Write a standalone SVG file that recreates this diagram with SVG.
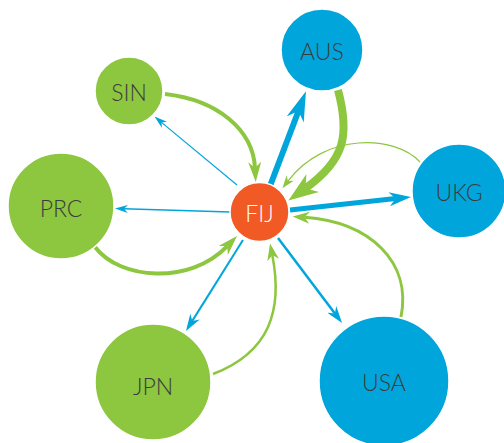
<svg xmlns="http://www.w3.org/2000/svg" width="504" height="443" viewBox="0 0 504 443">
<style>
.g{fill:#8dc63f}
.b{fill:#00a6db}
.o{fill:#f15a24}
.n{stroke:#ffffff;stroke-width:1.5}
.t{font-family:Lato,"Open Sans","Liberation Sans",sans-serif;font-size:23px;font-weight:300;fill:#3c3c3c;text-anchor:middle;dominant-baseline:central}
.tw{fill:#ffffff}
.cg{fill:none;stroke:#8dc63f}
.cb{fill:none;stroke:#00a6db}
</style>
<defs>
<marker id="hG1" viewBox="0 0 10 10" refX="3" refY="5" markerUnits="userSpaceOnUse" markerWidth="13" markerHeight="9" preserveAspectRatio="none" orient="auto"><path d="M0,0 L10,5 L0,10 L3,5 z" fill="#8dc63f"/></marker>
<marker id="hG2" viewBox="0 0 10 10" refX="3" refY="5" markerUnits="userSpaceOnUse" markerWidth="17" markerHeight="12" preserveAspectRatio="none" orient="auto"><path d="M0,0 L10,5 L0,10 L3,5 z" fill="#8dc63f"/></marker>
<marker id="hG3" viewBox="0 0 10 10" refX="3" refY="5" markerUnits="userSpaceOnUse" markerWidth="20" markerHeight="13" preserveAspectRatio="none" orient="auto"><path d="M0,0 L10,5 L0,10 L3,5 z" fill="#8dc63f"/></marker>
<marker id="hG4" viewBox="0 0 10 10" refX="3" refY="5" markerUnits="userSpaceOnUse" markerWidth="30" markerHeight="22" preserveAspectRatio="none" orient="auto"><path d="M0,0 L10,5 L0,10 L3,5 z" fill="#8dc63f"/></marker>
<marker id="hB1" viewBox="0 0 10 10" refX="3" refY="5" markerUnits="userSpaceOnUse" markerWidth="13" markerHeight="8" preserveAspectRatio="none" orient="auto"><path d="M0,0 L10,5 L0,10 L3,5 z" fill="#00a6db"/></marker>
<marker id="hB2" viewBox="0 0 10 10" refX="3" refY="5" markerUnits="userSpaceOnUse" markerWidth="17" markerHeight="11" preserveAspectRatio="none" orient="auto"><path d="M0,0 L10,5 L0,10 L3,5 z" fill="#00a6db"/></marker>
<marker id="hB3" viewBox="0 0 10 10" refX="3" refY="5" markerUnits="userSpaceOnUse" markerWidth="22" markerHeight="14" preserveAspectRatio="none" orient="auto"><path d="M0,0 L10,5 L0,10 L3,5 z" fill="#00a6db"/></marker>
<marker id="hB4" viewBox="0 0 10 10" refX="3" refY="5" markerUnits="userSpaceOnUse" markerWidth="30" markerHeight="18" preserveAspectRatio="none" orient="auto"><path d="M0,0 L10,5 L0,10 L3,5 z" fill="#00a6db"/></marker>
</defs>
<rect width="504" height="443" fill="#ffffff"/>
<g id="connectors">
<path class="cg" stroke-width="4" marker-end="url(#hG3)" d="M165,94 C218,100 253,130 255,168"/>
<path class="cb" stroke-width="1.2" marker-end="url(#hB1)" d="M237,185 L161.5,122.4"/>
<path class="cb" stroke-width="1.5" marker-end="url(#hB1)" d="M230,212 L124,208.8"/>
<path class="cg" stroke-width="4" marker-end="url(#hG3)" d="M95,247 C120,280 190,285 227.3,246.1"/>
<path class="cb" stroke-width="6" marker-end="url(#hB4)" d="M270,186 L298.5,111"/>
<path class="cg" stroke-width="8" marker-end="url(#hG4)" d="M338,90 C350,135 345,160 305.5,188.3"/>
<path class="cg" stroke-width="1.2" marker-end="url(#hG1)" d="M420,162 C395,135 325,132 287.9,181.1"/>
<path class="cb" stroke-width="5" marker-end="url(#hB3)" d="M290,210 L395.7,198.6"/>
<path class="cg" stroke-width="3" marker-end="url(#hG2)" d="M401,317 C412,262 370,222 304.5,217.3"/>
<path class="cb" stroke-width="2.5" marker-end="url(#hB2)" d="M278,238 L334.9,313.5"/>
<path class="cb" stroke-width="2" marker-end="url(#hB2)" d="M243,240 L192.3,320.9"/>
<path class="cg" stroke-width="2.5" marker-end="url(#hG2)" d="M213,374 C270,352 283,310 272.3,255.1"/>
</g>
<g id="node-AUS"><circle class="b n" cx="322" cy="50" r="41"/><text class="t" x="322" y="51">AUS</text></g>
<g id="node-SIN"><circle class="g n" cx="129" cy="91" r="34"/><text class="t" x="129" y="92">SIN</text></g>
<g id="node-PRC"><circle class="g n" cx="61" cy="206" r="53"/><text class="t" x="61" y="208">PRC</text></g>
<g id="node-UKG"><circle class="b n" cx="459" cy="191" r="47"/><text class="t" x="459" y="192">UKG</text></g>
<g id="node-USA"><circle class="b n" cx="384" cy="381" r="65"/><text class="t" x="384" y="382">USA</text></g>
<g id="node-JPN"><circle class="g n" cx="153" cy="382" r="58"/><text class="t" x="153" y="386">JPN</text></g>
<g id="node-FIJ"><circle class="o n" cx="259.5" cy="212" r="29.5"/><text class="t tw" x="259.5" y="213">FIJ</text></g>
</svg>
